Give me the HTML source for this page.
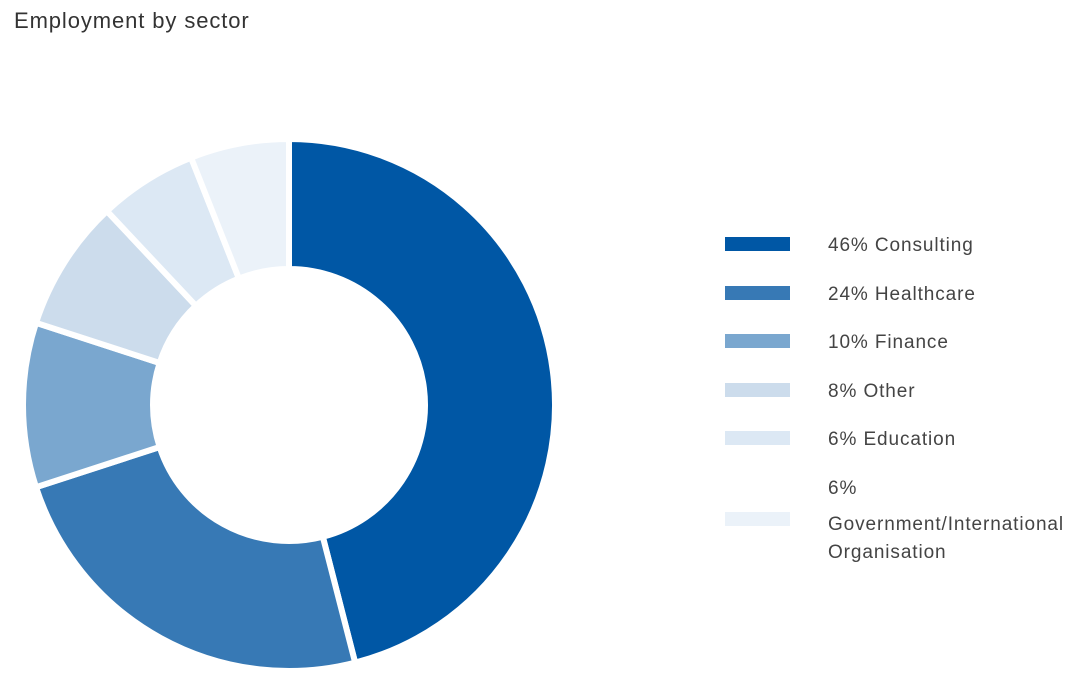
<!DOCTYPE html>
<html><head><meta charset="utf-8"><style>
body{margin:0;width:1080px;height:678px;background:#fff;font-family:"Liberation Sans",sans-serif;overflow:hidden;position:relative}
#title{position:absolute;left:14px;top:8px;font-size:22px;color:#333;letter-spacing:0.9px}
.leg{position:absolute;left:725px;font-size:19px;color:#444;letter-spacing:0.9px}
.sw{position:absolute;left:0;width:65px;height:14px}
.lt{position:absolute;left:103px;white-space:nowrap;line-height:28px}
</style></head><body>
<div id="title">Employment by sector</div>
<svg id="chart" width="1080" height="678" style="position:absolute;left:0;top:0"></svg>
<div id="legend"></div>
<script>
const categories=["Consulting","Healthcare","Finance","Other","Education","Government/International Organisation"];
const values=[46,24,10,8,6,6];
const colors=["#0057a5","#3779b5","#7aa7cf","#ccdcec","#dce8f4","#ebf2f9"];
const cx=289,cy=405,R=266,r=136;
const svg=document.getElementById('chart');
const total=values.reduce((a,b)=>a+b,0);
let a0=0;
function pt(rad,a){return [cx+rad*Math.sin(a),cy-rad*Math.cos(a)];}
values.forEach((v,i)=>{
 const a1=a0+v/total*2*Math.PI;
 const large=(a1-a0)>Math.PI?1:0;
 const p1=pt(R,a0),p2=pt(R,a1),p3=pt(r,a1),p4=pt(r,a0);
 const d=`M${p1}A${R},${R} 0 ${large} 1 ${p2}L${p3}A${r},${r} 0 ${large} 0 ${p4}Z`;
 const p=document.createElementNS('http://www.w3.org/2000/svg','path');
 p.setAttribute('d',d);p.setAttribute('fill',colors[i]);p.setAttribute('stroke','#fff');p.setAttribute('stroke-width','6');
 
 
 svg.appendChild(p);
 a0=a1;
});
const lg=document.getElementById('legend');
const rowTops=[237,286,334,383,431,480];
values.forEach((v,i)=>{
 const d=document.createElement('div');d.className='leg';
 
 
 const last=i===values.length-1;
 d.style.top=rowTops[i]+'px';
 const sw=document.createElement('div');sw.className='sw';sw.style.background=colors[i];
 sw.style.top=(last?32:0)+'px';
 const t=document.createElement('div');t.className='lt';
 t.style.top='-5px';
 if(last){t.innerHTML=v+'%<div style="margin-top:8px">Government/International<br>Organisation</div>';}
 else t.textContent=v+'% '+categories[i];
 d.appendChild(sw);d.appendChild(t);lg.appendChild(d);
});
</script>
</body></html>
